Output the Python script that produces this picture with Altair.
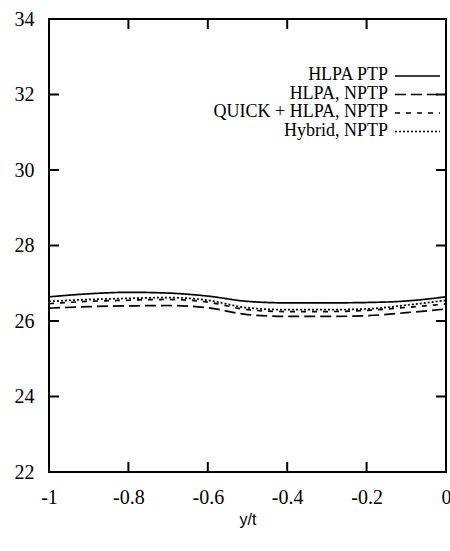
import altair as alt
import pandas as pd

# ---- data ----
x_vals = [-1.0, -0.9, -0.8, -0.7, -0.6, -0.5, -0.4, -0.3, -0.2, -0.1, 0.0]
hlpa_ptp = [26.64, 26.72, 26.76, 26.74, 26.66, 26.52, 26.48, 26.48, 26.49, 26.53, 26.64]
hlpa_nptp = [26.34, 26.38, 26.40, 26.41, 26.35, 26.17, 26.12, 26.12, 26.14, 26.22, 26.32]
quick_nptp = [26.46, 26.52, 26.55, 26.57, 26.50, 26.30, 26.25, 26.25, 26.28, 26.36, 26.45]
hybrid_nptp = [26.52, 26.57, 26.60, 26.62, 26.55, 26.35, 26.30, 26.30, 26.32, 26.42, 26.55]

series_names = ["HLPA PTP", "HLPA, NPTP", "QUICK + HLPA, NPTP", "Hybrid, NPTP"]
series_values = [hlpa_ptp, hlpa_nptp, quick_nptp, hybrid_nptp]

x_ticks = [-1, -0.8, -0.6, -0.4, -0.2, 0]
x_inner_ticks = [-0.8, -0.6, -0.4, -0.2]
y_ticks = [22, 24, 26, 28, 30, 32, 34]
y_inner_ticks = [24, 26, 28, 30, 32]

# ---- styles ----
dashes = [[1, 0], [11, 5], [5, 6], [2, 2]]
W, H = 397, 453
SERIF = "Liberation Serif"
SANS = "Liberation Sans"

rows = []
for name, vals in zip(series_names, series_values):
    for xv, yv in zip(x_vals, vals):
        rows.append({"x": xv, "y": yv, "series": name})
df = pd.DataFrame(rows)

xscale = alt.Scale(domain=[-1, 0], nice=False, zero=False)
yscale = alt.Scale(domain=[22, 34], nice=False, zero=False)

layers = []
for name, dash in zip(series_names, dashes):
    layers.append(
        alt.Chart(df[df.series == name]).mark_line(
            color="black", strokeWidth=1.7, strokeDash=dash, interpolate="monotone"
        ).encode(
            x=alt.X("x:Q", scale=xscale,
                    axis=alt.Axis(values=x_ticks, title="y/t", grid=False, ticks=False,
                                  domain=False, labelFont=SERIF, labelFontSize=20,
                                  labelColor="black", labelPadding=15,
                                  labelExpr="datum.value == 0 ? '0' : datum.value == -1 ? '-1' : '-' + format(abs(datum.value), '.1f')",
                                  labelFlush=False,
                                  titleFont=SANS, titleFontSize=16, titleFontWeight="normal",
                                  titleColor="black", titlePadding=4)),
            y=alt.Y("y:Q", scale=yscale,
                    axis=alt.Axis(values=y_ticks, title=None, grid=False, ticks=False,
                                  domain=False, labelFont=SERIF, labelFontSize=20,
                                  labelColor="black", labelPadding=15, labelFlush=False)),
        )
    )

# inward ticks
yt = pd.DataFrame({"v": y_inner_ticks})
xt = pd.DataFrame({"v": x_inner_ticks})
tick_style = dict(color="black", strokeWidth=2)
layers.append(alt.Chart(yt).mark_rule(**tick_style).encode(
    y=alt.Y("v:Q", scale=yscale), x=alt.value(0), x2=alt.value(10)))
layers.append(alt.Chart(yt).mark_rule(**tick_style).encode(
    y=alt.Y("v:Q", scale=yscale), x=alt.value(W - 10), x2=alt.value(W)))
layers.append(alt.Chart(xt).mark_rule(**tick_style).encode(
    x=alt.X("v:Q", scale=xscale), y=alt.value(0), y2=alt.value(10)))
layers.append(alt.Chart(xt).mark_rule(**tick_style).encode(
    x=alt.X("v:Q", scale=xscale), y=alt.value(H - 10), y2=alt.value(H)))

# manual legend (labels left of samples)
leg_df = pd.DataFrame({"series": series_names})
for i, (name, dash) in enumerate(zip(series_names, dashes)):
    yy = 56 + 18.5 * i
    layers.append(alt.Chart(leg_df[leg_df.series == name]).mark_text(
        align="right", baseline="middle", font=SERIF, fontSize=18, color="black"
    ).encode(text="series:N", x=alt.value(339), y=alt.value(yy)))
    layers.append(alt.Chart(leg_df[leg_df.series == name]).mark_rule(
        color="black", strokeWidth=1.4, strokeDash=dash
    ).encode(x=alt.value(346), x2=alt.value(391), y=alt.value(yy + 1)))

chart = alt.layer(*layers).properties(
    width=W, height=H,
    autosize=alt.AutoSizeParams(type="none"),
    padding={"left": 49, "top": 19, "right": 4, "bottom": 79},
    background="white",
).configure_view(stroke="black", strokeWidth=2)

chart.save("out.html", embed_options={"renderer": "svg", "actions": False})
